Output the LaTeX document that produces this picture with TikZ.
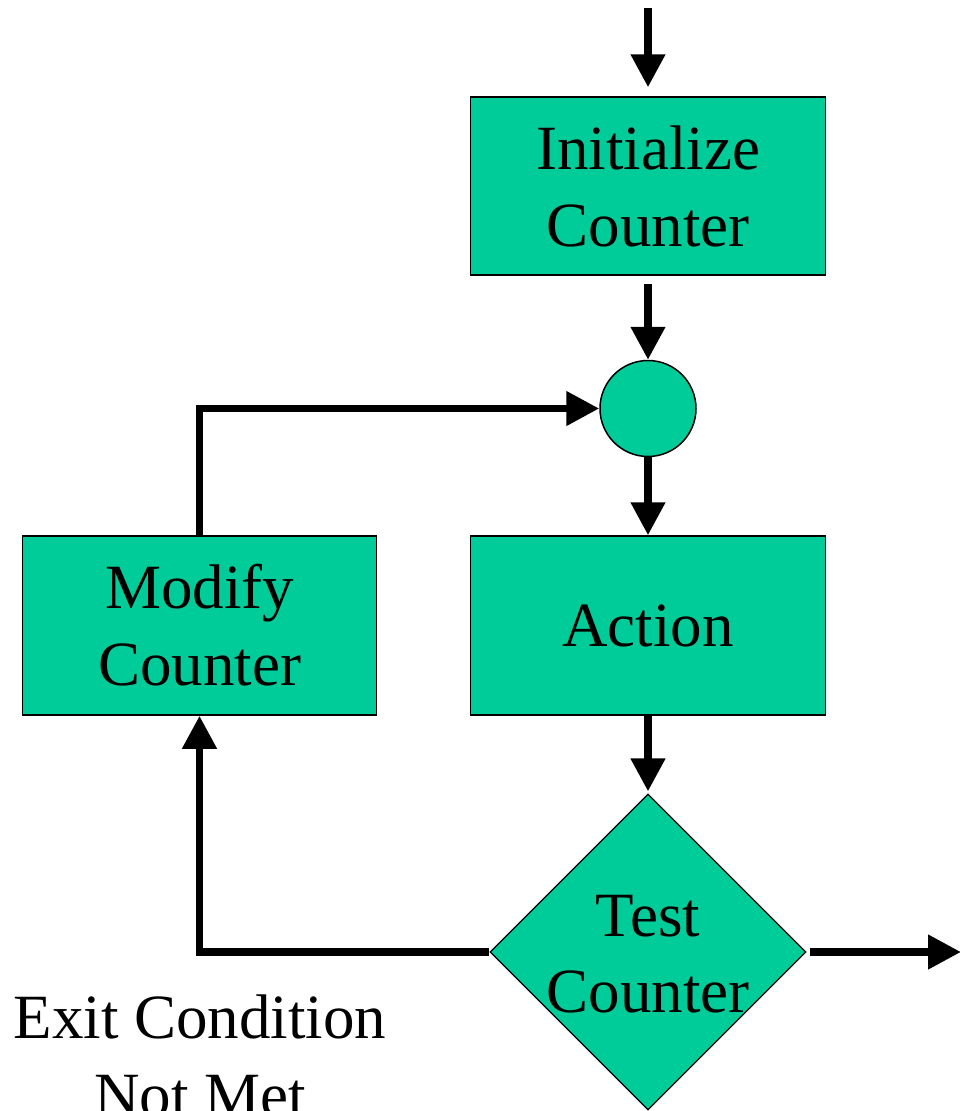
\documentclass[tikz,border=0pt]{standalone}
\usepackage{fontspec}
\setmainfont{Liberation Serif}
\usetikzlibrary{arrows.meta,shapes.geometric}
\definecolor{boxgreen}{RGB}{0,204,153}
\tikzset{
  stepbox/.style={draw=black, line width=1.5pt, fill=boxgreen, rectangle,
    inner sep=0pt, align=center},
  joinpt/.style={draw=black, line width=1.5pt, fill=boxgreen, circle,
    inner sep=0pt, minimum size=96pt},
  testbox/.style={draw=black, line width=1.2pt, fill=boxgreen, diamond,
    inner sep=0pt, minimum width=316pt, minimum height=316pt},
  label/.style={inner sep=0pt, align=center},
  flow/.style={line width=7.5pt, -{Triangle[length=33pt,width=33pt]}},
}
\begin{document}
\begin{tikzpicture}[x=1pt, y=-1pt,
  every node/.append style={font=\fontsize{63pt}{77pt}\selectfont}]
  \useasboundingbox (0,0) rectangle (959,1111);

  % main column, all centred on x = 648
  \node[stepbox, minimum width=355pt, minimum height=178pt] (init) at (648,186) {Initialize\\Counter};
  \node[joinpt] (join) at (648,408.5) {};
  \node[stepbox, minimum width=355pt, minimum height=179pt] (action) at (648,625.5) {Action};
  \node[testbox] (test) at (648,952) {};
  \node[label, font=\fontsize{63pt}{76pt}\selectfont] (testtext) at (648,954.5) {Test\\Counter};

  % loop-back branch
  \node[stepbox, minimum width=354pt, minimum height=179pt] (modify) at (199.5,625.5) {Modify\\Counter};
  \node[label, font=\fontsize{63pt}{78pt}\selectfont] (exitlabel) at (200,1056) {Exit Condition\\Not Met};

  % free ends
  \coordinate (entry) at (648,8);
  \coordinate (exit) at (961,952);

  % connectors
  \draw[flow, shorten >=9pt] (entry) -- (init.north);
  \draw[flow, shorten <=8pt] (init.south) -- (join.north);
  \draw[flow] (join.south) -- (action.north);
  \draw[flow, shorten >=2pt] (action.south) -- (test.north);
  \draw[flow] (test.west) -| (modify.south);
  \draw[flow] (modify.north) |- (join.west);
  \draw[flow, shorten <=3pt] (test.east) -- (exit);
\end{tikzpicture}
\end{document}
